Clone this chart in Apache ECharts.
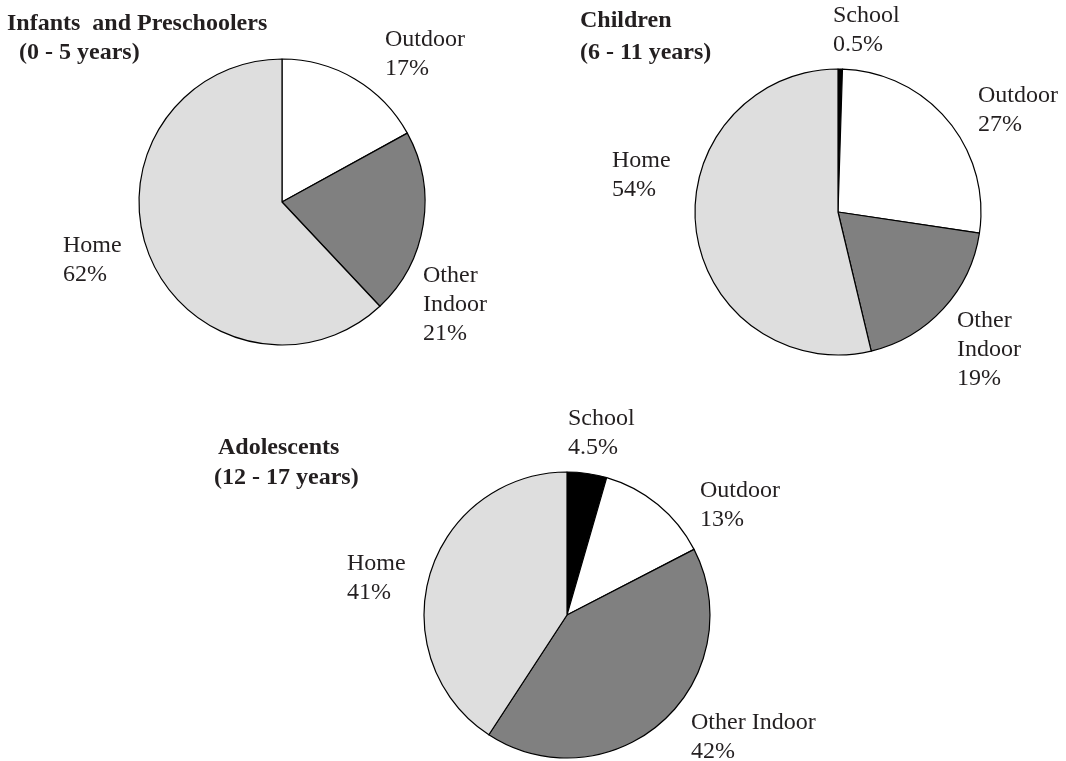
<!DOCTYPE html>
<html>
<head>
<meta charset="utf-8">
<script src="https://cdn.jsdelivr.net/npm/echarts@6/dist/echarts.min.js"></script>
<style>
  html, body { margin: 0; padding: 0; background: #fff; }
  #chart { width: 1066px; height: 761px; }
</style>
</head>
<body>
<div id="chart"></div>
<script>
// data
const infantNames = ['Outdoor', 'Other Indoor', 'Home'];
const infantValues = [17, 21, 62];
const childNames = ['School', 'Outdoor', 'Other Indoor', 'Home'];
const childValues = [0.5, 27, 19, 54];
const teenNames = ['School', 'Outdoor', 'Other Indoor', 'Home'];
const teenValues = [4.5, 13, 42, 41];

const sliceColors = {
  'School': '#000000',
  'Outdoor': '#ffffff',
  'Other Indoor': '#808080',
  'Home': '#dedede'
};

const font = 'Liberation Serif, Times New Roman, serif';
const textColor = '#231f20';

// label anchors (left, top) for each slice, in data order
const infantLabelPos = [[385, 25], [423, 261], [63, 231]];
const childLabelPos = [[833, 1], [978, 81], [957, 306], [612, 146]];
const teenLabelPos = [[568, 404], [700, 476], [691, 708], [347, 549]];

const makePie = (names, values, center, labelPos, wrap) => ({
  type: 'pie',
  center: center,
  radius: 143,
  startAngle: 90,
  clockwise: true,
  avoidLabelOverlap: false,
  silent: true,
  animation: false,
  itemStyle: { borderColor: '#000', borderWidth: 1.2 },
  label: {
    show: true,
    position: 'outside',
    fontFamily: font,
    fontSize: 24,
    lineHeight: 29,
    color: textColor,
    formatter: (p) => (wrap ? p.name.replace(' ', '\n') : p.name) + '\n' + p.value + '%'
  },
  labelLine: { show: false },
  labelLayout: (p) => ({
    x: labelPos[p.dataIndex][0],
    y: labelPos[p.dataIndex][1],
    align: 'left',
    verticalAlign: 'top'
  }),
  emphasis: { disabled: true },
  data: names.map((n, i) => ({ name: n, value: values[i], itemStyle: { color: sliceColors[n] } }))
});

const titleStyle = { fontFamily: font, fontSize: 24, fontWeight: 'bold', color: textColor, lineHeight: 29 };
const mkTitle = (text, left, top) => ({ text, left, top, padding: 0, textStyle: titleStyle });

const chart = echarts.init(document.getElementById('chart'));
chart.setOption({
  backgroundColor: '#ffffff',
  animation: false,
  title: [
    mkTitle('Infants  and Preschoolers', 7, 9),
    mkTitle('(0 - 5 years)', 19, 38),
    mkTitle('Children', 580, 6),
    mkTitle('(6 - 11 years)', 580, 38),
    mkTitle('Adolescents', 218, 433),
    mkTitle('(12 - 17 years)', 214, 463)
  ],
  series: [
    makePie(infantNames, infantValues, [282, 202], infantLabelPos, true),
    makePie(childNames, childValues, [838, 212], childLabelPos, true),
    makePie(teenNames, teenValues, [567, 615], teenLabelPos, false)
  ]
});
</script>
</body>
</html>
